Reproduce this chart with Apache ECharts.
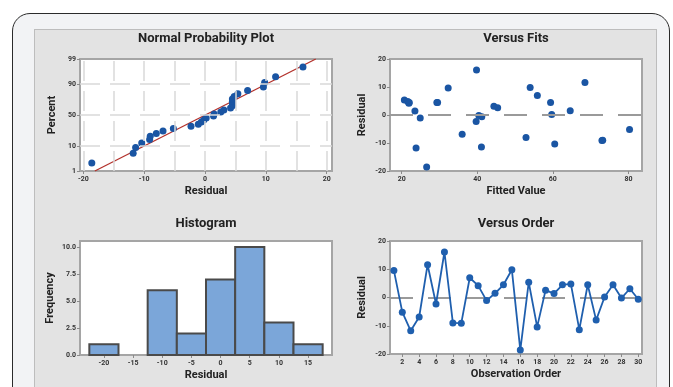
<!DOCTYPE html>
<html>
<head>
<meta charset="utf-8">
<script src="https://cdn.jsdelivr.net/npm/echarts@6.0.0/dist/echarts.min.js"></script>
<style>
  html, body { margin: 0; padding: 0; background: #ffffff; }
  #wrap { position: relative; width: 673px; height: 387px; overflow: hidden; }
  #frame { position: absolute; left: 12px; top: 13px; width: 658px; height: 420px;
           border: 1.5px solid #2b2b2b; border-radius: 18px; background: #f2f3f5; box-sizing: border-box; }
  #panel { position: absolute; left: 34px; top: 29px; width: 623px; height: 420px;
           border: 1px solid #bdbdbd; background: #e3e3e3; box-sizing: border-box; }
  #chart { position: absolute; left: 0; top: 0; width: 673px; height: 387px; }
</style>
</head>
<body>
<div id="wrap">
  <div id="frame"></div>
  <div id="panel"></div>
  <div id="chart"></div>
</div>
<script>
// ---------------- data ----------------
const observation = [1,2,3,4,5,6,7,8,9,10,11,12,13,14,15,16,17,18,19,20,21,22,23,24,25,26,27,28,29,30];
const residuals = [9.6,-5.2,-11.8,-6.9,11.6,-2.3,16.1,-9.0,-9.1,7.0,4.2,-1.1,1.5,4.5,9.8,-18.6,5.4,-10.4,2.6,1.4,4.5,4.8,-11.4,4.5,-8.0,0.2,4.5,-0.2,3.1,-0.6];
const fittedValues = [32.3,80.3,23.8,36.0,68.5,39.7,39.8,73.2,73.0,55.9,21.9,24.9,64.6,29.3,54.0,26.6,20.7,60.5,45.4,23.5,59.4,21.6,41.1,22.0,52.9,59.7,29.5,40.4,44.4,41.2];
const npPercent = [2.30,5.59,8.88,12.17,15.46,18.75,22.04,25.33,28.62,31.91,35.20,38.49,41.78,45.07,48.36,51.64,54.93,58.22,61.51,64.80,68.09,71.38,74.67,77.96,81.25,84.54,87.83,91.12,94.41,97.70];
const npFitLine = [[-18.1, 1], [18.2, 99]];
const npXTicks = [-20,-10,0,10,20];
const npGridX = [-20,-15,-10,-5,0,5,10,15,20];
const npYTicks = [1,10,50,90,99];
const npGridY = [10,50,90];
const fitsXTicks = [20,40,60,80];
const residTicks = [-20,-10,0,10,20];
const histCenters = [-20,-15,-10,-5,0,5,10,15];
const histCounts = [1,0,6,2,7,10,3,1];
const histBinWidth = 5;
const histYTicks = [0,2.5,5,7.5,10];
const orderXTicks = [2,4,6,8,10,12,14,16,18,20,22,24,26,28,30];

// probability scale helper (inverse normal CDF)
function probit(p){
  const a=[-3.969683028665376e+01,2.209460984245205e+02,-2.759285104469687e+02,1.383577518672690e+02,-3.066479806614716e+01,2.506628277459239e+00];
  const b=[-5.447609879822406e+01,1.615858368580409e+02,-1.556989798598866e+02,6.680131188771972e+01,-1.328068155288572e+01];
  const c=[-7.784894002430293e-03,-3.223964580411365e-01,-2.400758277161838e+00,-2.549732539343734e+00,4.374664141464968e+00,2.938163982698783e+00];
  const d=[7.784695709041462e-03,3.224671290700398e-01,2.445134137142996e+00,3.754408661907416e+00];
  const pl=0.02425, ph=1-pl; let q,r;
  if(p<pl){q=Math.sqrt(-2*Math.log(p));return (((((c[0]*q+c[1])*q+c[2])*q+c[3])*q+c[4])*q+c[5])/((((d[0]*q+d[1])*q+d[2])*q+d[3])*q+1);}
  if(p>ph){q=Math.sqrt(-2*Math.log(1-p));return -(((((c[0]*q+c[1])*q+c[2])*q+c[3])*q+c[4])*q+c[5])/((((d[0]*q+d[1])*q+d[2])*q+d[3])*q+1);}
  q=p-0.5;r=q*q;return (((((a[0]*r+a[1])*r+a[2])*r+a[3])*r+a[4])*r+a[5])*q/(((((b[0]*r+b[1])*r+b[2])*r+b[3])*r+b[4])*r+1);
}
const pz = p => probit(p/100);

// ---------------- styles ----------------
const FONT = 'Roboto';
const tickLabel = { fontSize: 7, fontWeight: 'bold', color: '#333', fontFamily: FONT };
const nameStyle = { fontSize: 11, fontWeight: 'bold', color: '#222', fontFamily: FONT };
const pointColor = '#1a55a3';

function axis(gi, min, max, ticks, fmt, name, nameGap, isY) {
  return {
    type: 'value', gridIndex: gi, min: min, max: max,
    name: name, nameLocation: 'middle', nameGap: nameGap, nameTextStyle: nameStyle,
    axisLine: { show: false, onZero: false },
    axisTick: { show: true, customValues: ticks, length: 3, lineStyle: { color: '#8a8a8a', width: 1 } },
    axisLabel: Object.assign({ customValues: ticks, formatter: fmt, margin: isY ? 4 : 5 }, tickLabel),
    splitLine: { show: false }
  };
}
const gridBox = { show: true, backgroundColor: '#ffffff', borderColor: '#a5a5a5', borderWidth: 2 };

const npYTickZ = npYTicks.map(pz);
function npYFmt(v){
  let best = 0;
  npYTickZ.forEach((z,i)=>{ if (Math.abs(z - v) < Math.abs(npYTickZ[best] - v)) best = i; });
  return String(npYTicks[best]);
}

const zeroLine = {
  silent: true, symbol: ['none','none'], label: { show: false },
  lineStyle: { color: '#9a9a9a', width: 2, type: [23, 15] },
  data: [{ yAxis: 0 }]
};

const option = {
  animation: false,
  title: [
    { text: 'Normal Probability Plot', left: 206, top: 32, textAlign: 'center', padding: 0 },
    { text: 'Versus Fits', left: 516, top: 32, textAlign: 'center', padding: 0 },
    { text: 'Histogram', left: 206, top: 217, textAlign: 'center', padding: 0 },
    { text: 'Versus Order', left: 516, top: 217, textAlign: 'center', padding: 0 }
  ].map(t => Object.assign(t, { textStyle: { fontSize: 13, fontWeight: 'bold', color: '#222', fontFamily: FONT } })),
  grid: [
    Object.assign({ left: 80, top: 59, width: 252, height: 112 }, gridBox),
    Object.assign({ left: 390, top: 59, width: 252, height: 112 }, gridBox),
    Object.assign({ left: 80, top: 241, width: 252, height: 114 }, gridBox),
    Object.assign({ left: 390, top: 241, width: 252, height: 113 }, gridBox)
  ],
  xAxis: [
    axis(0, -20.54, 20.87, npXTicks, v => String(v), 'Residual', 15, false),
    axis(1, 16.9, 83.6, fitsXTicks, v => String(v), 'Fitted Value', 15, false),
    axis(2, -24.1, 19.1, histCenters, v => String(v), 'Residual', 15, false),
    axis(3, 0.54, 30.44, orderXTicks, v => String(v), 'Observation Order', 15, false)
  ],
  yAxis: [
    axis(0, pz(1), pz(99), npYTickZ, npYFmt, 'Percent', 22, true),
    axis(1, -20, 20, residTicks, v => String(v), 'Residual', 22, true),
    axis(2, 0, 10.56, histYTicks, v => v.toFixed(1), 'Frequency', 24, true),
    axis(3, -20, 20, residTicks, v => String(v), 'Residual', 22, true)
  ],
  series: [
    // normal plot gridlines
    {
      type: 'scatter', xAxisIndex: 0, yAxisIndex: 0, data: [], z: 1, silent: true,
      markLine: {
        silent: true, symbol: ['none','none'], label: { show: false },
        lineStyle: { color: '#d9d9d9', width: 1.5, type: [20, 10] },
        data: npGridX.map(v => ({ xAxis: v })).concat(npGridY.map(p => ({ yAxis: pz(p) })))
      }
    },
    // fitted normal line
    {
      type: 'line', xAxisIndex: 0, yAxisIndex: 0, z: 3, symbol: 'none', silent: true,
      lineStyle: { color: '#b3312b', width: 1.3 },
      data: npFitLine.map(d => [d[0], pz(d[1])])
    },
    // normal plot points
    {
      type: 'scatter', xAxisIndex: 0, yAxisIndex: 0, z: 4, symbol: 'circle', symbolSize: 7,
      itemStyle: { color: pointColor, opacity: 1 },
      data: residuals.slice().sort((a,b)=>a-b).map((r,i) => [r, pz(npPercent[i])])
    },
    // versus fits
    {
      type: 'scatter', xAxisIndex: 1, yAxisIndex: 1, z: 4, symbol: 'circle', symbolSize: 7,
      itemStyle: { color: pointColor, opacity: 1 },
      data: fittedValues.map((f,i) => [f, residuals[i]]),
      markLine: zeroLine
    },
    // histogram
    {
      type: 'custom', xAxisIndex: 2, yAxisIndex: 2, z: 3,
      data: histCenters.map((c,i) => [c - histBinWidth/2, c + histBinWidth/2, histCounts[i]]),
      renderItem: function(params, api){
        const lo = api.value(0), hi = api.value(1), n = api.value(2);
        if (!n) return null;
        const p0 = api.coord([lo, 0]), p1 = api.coord([hi, n]);
        return { type: 'rect',
          shape: { x: p0[0], y: p1[1], width: p1[0]-p0[0], height: p0[1]-p1[1] },
          style: { fill: '#7ba6d9', stroke: '#4a4a4a', lineWidth: 2 } };
      }
    },
    // versus order
    {
      type: 'line', xAxisIndex: 3, yAxisIndex: 3, z: 4, symbol: 'circle', symbolSize: 7,
      lineStyle: { color: '#1f5fae', width: 1.8 },
      itemStyle: { color: '#1f5fae', opacity: 1 },
      data: observation.map((o,i) => [o, residuals[i]]),
      markLine: Object.assign({}, zeroLine, { z: 1 })
    }
  ]
};

const chart = echarts.init(document.getElementById('chart'), null, { renderer: 'canvas' });
chart.setOption(option);
</script>
</body>
</html>
